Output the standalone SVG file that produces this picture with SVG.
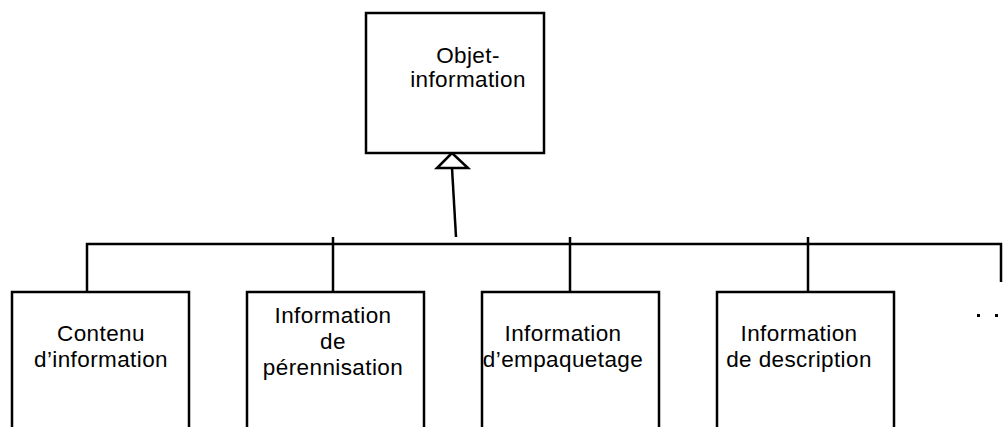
<svg xmlns="http://www.w3.org/2000/svg" width="1006" height="427" viewBox="0 0 1006 427">
<style>
.box{fill:#fff;stroke:#000;stroke-width:2.5}
.ln{fill:none;stroke:#000;stroke-width:2.5}
.t{font-family:"Liberation Sans",Arial,sans-serif;font-size:22.5px;letter-spacing:0.4px;fill:#000;text-anchor:middle}
.dot{fill:#000}
</style>
<rect width="1006" height="427" fill="#fff"/>
<g id="connectors">
<polyline class="ln" points="87,297 87,244 1001,244 1001,282"/>
<line class="ln" x1="333" y1="237" x2="333" y2="292"/>
<line class="ln" x1="570" y1="237" x2="570" y2="292"/>
<line class="ln" x1="808" y1="237" x2="808" y2="292"/>
<line class="ln" x1="456" y1="237" x2="452" y2="168"/>
<polygon class="box" points="452,153 437,168 468,168"/>
</g>
<g id="objet-information">
<rect class="box" x="366" y="13" width="178" height="140"/>
<text class="t" x="468" y="63">Objet-</text>
<text class="t" x="468" y="87">information</text>
</g>
<g id="contenu">
<rect class="box" x="12" y="292" width="177" height="145"/>
<text class="t" x="101" y="341">Contenu</text>
<text class="t" x="101" y="367">d’information</text>
</g>
<g id="perennisation">
<rect class="box" x="247" y="292" width="177" height="145"/>
<text class="t" x="333" y="323">Information</text>
<text class="t" x="333" y="349">de</text>
<text class="t" x="333" y="375">pérennisation</text>
</g>
<g id="empaquetage">
<rect class="box" x="482" y="292" width="177" height="145"/>
<text class="t" x="563" y="341">Information</text>
<text class="t" x="563" y="367">d’empaquetage</text>
</g>
<g id="description">
<rect class="box" x="717" y="292" width="177" height="145"/>
<text class="t" x="799" y="341">Information</text>
<text class="t" x="799" y="367">de description</text>
</g>
<g id="more">
<rect class="dot" x="977" y="314" width="3" height="3"/>
<rect class="dot" x="995" y="314" width="3" height="3"/>
</g>
</svg>
